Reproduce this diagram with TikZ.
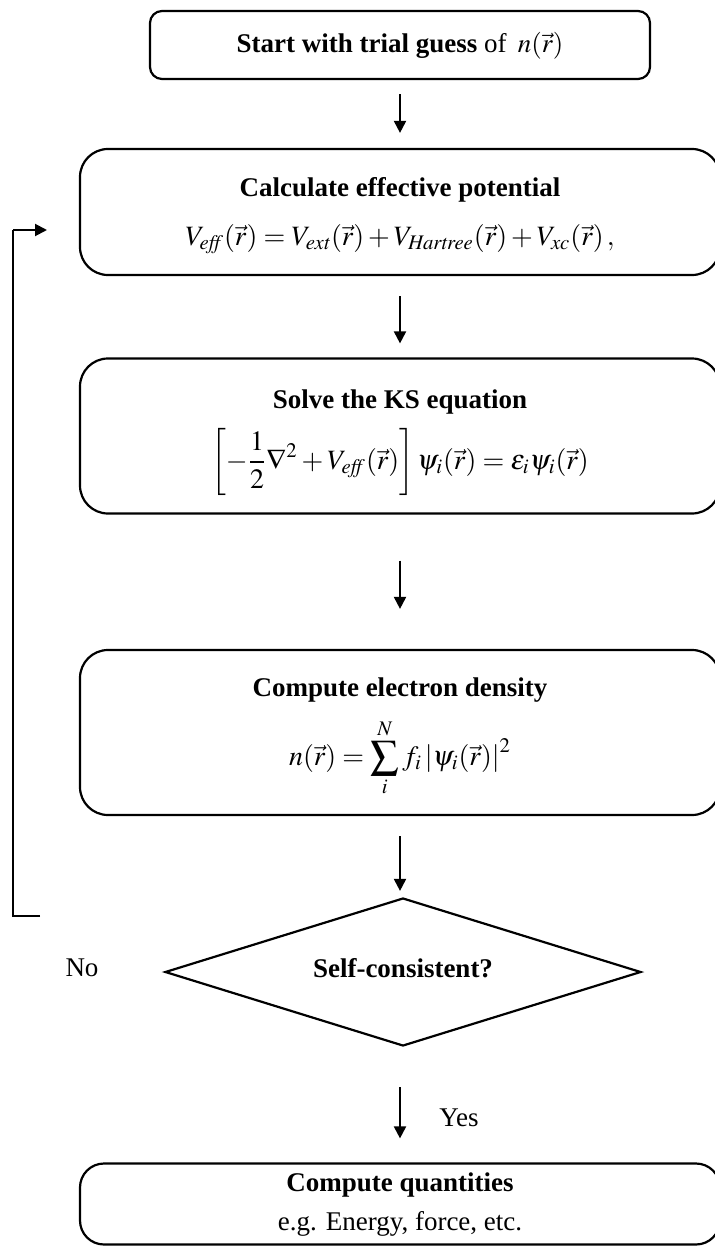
\documentclass[tikz,border=0pt]{standalone}
\usepackage{mathptmx}
\usepackage{fontspec}
\setmainfont{Liberation Serif}
\usetikzlibrary{arrows.meta,shapes.geometric}
\begin{document}
\begin{tikzpicture}[x=0.5pt,y=-0.5pt,
  rbox/.style={draw, line width=1.1pt, rounded corners=14pt, inner sep=0pt},
  sbox/.style={draw, line width=1.1pt, rounded corners=6pt, inner sep=0pt},
  arr/.style={line width=1pt, -{Triangle[length=6pt,width=6pt]}},
  loopline/.style={line width=1pt},
  ttl/.style={font=\fontsize{13.5}{15}\selectfont\bfseries, inner sep=0pt},
  txt/.style={font=\fontsize{13.5}{15}\selectfont, inner sep=0pt},
  eqn/.style={font=\fontsize{14}{16}\selectfont, inner sep=0pt}]
\useasboundingbox (0,0) rectangle (715,1247);
\clip (0,0) rectangle (715,1247);
% boxes
\node[sbox, minimum width=250pt, minimum height=34pt] (b1) at (400,45) {};
\node[rbox, minimum width=320pt, minimum height=63pt] (b2) at (400,212) {};
\node[rbox, minimum width=320pt, minimum height=77.5pt] (b3) at (400,436) {};
\node[rbox, minimum width=320pt, minimum height=82.5pt] (b4) at (400,732.5) {};
\node[rbox, minimum width=320pt, minimum height=40.5pt, rounded corners=12pt] (b5) at (400,1204) {};
\node[draw, line width=1.1pt, diamond, aspect=3.25, minimum width=238pt, minimum height=74pt, inner sep=0pt] (d) at (403,972) {};
% texts
\node[txt] (t1) at (400,46) {\textbf{Start with trial guess} of \,$n(\vec r)$};
\node[ttl] (t2) at (400,190) {Calculate effective potential};
\node[eqn] (e2) at (400,239) {$V_{\mathit{eff}}(\vec r) = V_{\mathit{ext}}(\vec r) + V_{\mathit{Hartree}}(\vec r) + V_{\mathit{xc}}(\vec r)\,,$};
\node[ttl] (t3) at (400,402) {Solve the KS equation};
\node[eqn] (e3) at (400,462) {$\displaystyle\left[-\frac{1}{2}\nabla^2 + V_{\mathit{eff}}(\vec r)\right]\psi_i(\vec r) = \varepsilon_i\psi_i(\vec r)$};
\node[ttl] (t4) at (400,690) {Compute electron density};
\node[eqn] (e4) at (400,758) {$\displaystyle n(\vec r) = \sum_{i}^{N} f_i\left|\psi_i(\vec r)\right|^2$};
\node[ttl] (td) at (403,968) {Self-consistent?};
\node[ttl] (t5) at (400,1185) {Compute quantities};
\node[txt] (e5) at (400,1224) {e.g. Energy, force, etc.};
\node[txt] (no) at (82,968) {No};
\node[txt] (yes) at (459,1118) {Yes};
% arrows
\draw[arr, shorten <=7pt, shorten >=7.5pt] (b1.south -| b2.north) -- (b2.north);
\draw[arr, shorten <=10pt, shorten >=7pt] (b2.south) -- (b3.north);
\draw[arr, shorten <=23pt, shorten >=20pt] (b3.south) -- (b4.north);
\draw[arr, shorten <=10pt, shorten >=3pt] (b4.south) -- (b4.south |- d.north);
\draw[arr, shorten <=20pt, shorten >=12pt] (d.south -| b5.north) -- (b5.north);
% feedback loop
\coordinate (lb) at (40,916);
\coordinate (lc) at (13,916);
\coordinate (la) at (13,230);
\coordinate (lt) at (47,230);
\draw[loopline] (lb) -- (lc) -- (la);
\draw[arr] (la) -- (lt);
\end{tikzpicture}
\end{document}
